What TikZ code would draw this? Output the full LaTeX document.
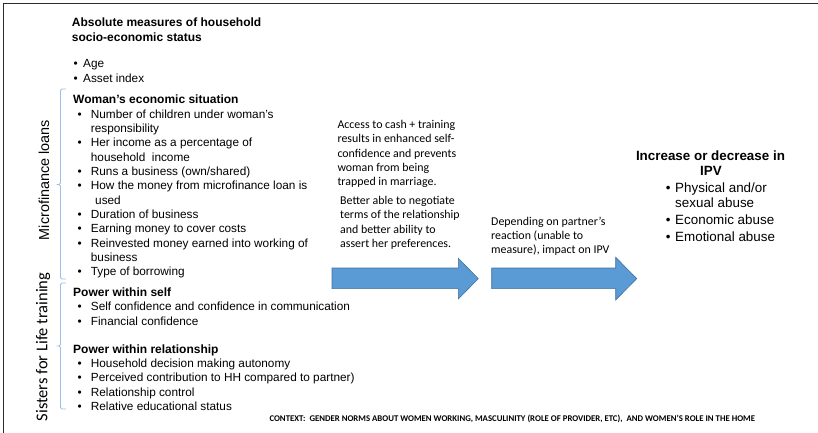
\documentclass[tikz,border=0pt]{standalone}
\usepackage{fontspec}
\setmainfont{Liberation Sans}
\newfontfamily\calib{Carlito}
\definecolor{framecol}{HTML}{2B2B2B}
\definecolor{bracketblue}{HTML}{9BBFE6}
\definecolor{arrowblue}{HTML}{5B9BD5}
\definecolor{arrowedge}{HTML}{41719C}
\begin{document}
\begin{tikzpicture}[x=1pt,y=-1pt,
  txt/.style={anchor=base west, inner sep=0pt, font=\fontsize{11.8}{14.3}\selectfont},
  hd/.style={anchor=base west, inner sep=0pt, font=\fontsize{12}{14.3}\selectfont\bfseries},
  bul/.style={anchor=base west, inner sep=0pt, font=\fontsize{11.8}{14.3}\selectfont},
  mid/.style={anchor=base west, inner sep=0pt, font=\calib\fontsize{11.9}{14.4}\selectfont},
  rtxt/.style={anchor=base west, inner sep=0pt, font=\fontsize{13.4}{16}\selectfont},
  rhd/.style={anchor=base, inner sep=0pt, font=\fontsize{13.4}{16}\selectfont\bfseries},
  brk/.style={draw=bracketblue, line width=0.9pt, rounded corners=1.5pt},
  bigarrow/.style={fill=arrowblue, draw=arrowedge, line width=0.6pt},
  ctx/.style={anchor=base west, inner sep=0pt, font=\calib\bfseries\fontsize{8.75}{10}\selectfont}
]
\useasboundingbox (0,0) rectangle (818,433);
\draw[framecol, line width=1.3pt] (3.5,433) -- (3.5,3.5) -- (818,3.5);

% header block
\node[hd] (t1) at (71.7,27) {Absolute measures of household};
\node[hd] (t2) at (71.7,42) {socio-economic status};
\node[bul] (b1) at (73.3,68) {•}; \node[txt] (a1) at (83,68) {Age};
\node[bul] (b2) at (73.3,83) {•}; \node[txt] (a2) at (83,83) {Asset index};

% woman's economic situation
\node[hd] (h1) at (73,103.3) {Woman’s economic situation};
\node[bul] (wb1) at (77.3,118.3) {•}; \node[txt] (w1) at (90.7,118.3) {Number of children under woman’s};
\node[txt] (w1b) at (90.7,132.6) {responsibility};
\node[bul] (wb2) at (77.3,146.9) {•}; \node[txt] (w2) at (90.7,146.9) {Her income as a percentage of};
\node[txt] (w2b) at (90.7,161.2) {household\ \ income};
\node[bul] (wb3) at (77.3,175.5) {•}; \node[txt] (w3) at (90.7,175.5) {Runs a business (own/shared)};
\node[bul] (wb4) at (77.3,189.8) {•}; \node[txt] (w4) at (90.7,189.8) {How the money from microfinance loan is};
\node[txt] (w4b) at (95,204.1) {used};
\node[bul] (wb5) at (77.3,218.4) {•}; \node[txt] (w5) at (90.7,218.4) {Duration of business};
\node[bul] (wb6) at (77.3,232.7) {•}; \node[txt] (w6) at (90.7,232.7) {Earning money to cover costs};
\node[bul] (wb7) at (77.3,247) {•}; \node[txt] (w7) at (90.7,247) {Reinvested money earned into working of};
\node[txt] (w7b) at (90.7,261.3) {business};
\node[bul] (wb8) at (77.3,275.6) {•}; \node[txt] (w8) at (90.7,275.6) {Type of borrowing};

% power within self
\node[hd] (h2) at (73,296.7) {Power within self};
\node[bul] (sb1) at (77.3,310.9) {•}; \node[txt] (s1) at (90.7,310.9) {Self confidence and confidence in communication};
\node[bul] (sb2) at (77.3,325.2) {•}; \node[txt] (s2) at (90.7,325.2) {Financial confidence};

% power within relationship
\node[hd] (h3) at (73,353.3) {Power within relationship};
\node[bul] (rb1) at (77.3,367.6) {•}; \node[txt] (r1) at (90.7,367.6) {Household decision making autonomy};
\node[bul] (rb2) at (77.3,381.9) {•}; \node[txt] (r2) at (90.7,381.9) {Perceived contribution to HH compared to partner)};
\node[bul] (rb3) at (77.3,396.2) {•}; \node[txt] (r3) at (90.7,396.2) {Relationship control};
\node[bul] (rb4) at (77.3,410.5) {•}; \node[txt] (r4) at (90.7,410.5) {Relative educational status};

% brackets
\draw[brk] (66,89) -- (60.5,89) -- (60.5,184.5) -- (55,184.5) -- (60.5,184.5) -- (60.5,279) -- (66,279);
\draw[brk] (66,283) -- (60.5,283) -- (60.5,346) -- (55,346) -- (60.5,346) -- (60.5,409) -- (66,409);

% rotated labels
\node[rotate=90, inner sep=0pt, font=\fontsize{14.4}{16}\selectfont] (ml) at (44,180) {Microfinance loans};
\node[rotate=90, inner sep=0pt, font=\calib\fontsize{16.5}{18}\selectfont] (sl) at (43,347) {Sisters for Life training};

% middle text
\node[mid] (m1) at (337.3,128.3) {Access to cash + training};
\node[mid] (m2) at (337.3,142.7) {results in enhanced self-};
\node[mid] (m3) at (337.3,157.1) {confidence and prevents};
\node[mid] (m4) at (337.3,171.5) {woman from being};
\node[mid] (m5) at (337.3,185.9) {trapped in marriage.};
\node[mid] (n1) at (340,204.3) {Better able to negotiate};
\node[mid] (n2) at (340,218.7) {terms of the relationship};
\node[mid] (n3) at (340,233.1) {and better ability to};
\node[mid] (n4) at (340,247.5) {assert her preferences.};
\node[mid] (d1) at (491,225) {Depending on partner’s};
\node[mid] (d2) at (491,239.3) {reaction (unable to};
\node[mid] (d3) at (491,253.6) {measure), impact on IPV};

% arrows
\draw[bigarrow] (332,268) -- (458.3,268) -- (458.3,258.3) -- (478.3,278.6) -- (458.3,299) -- (458.3,288.6) -- (332,288.6) -- cycle;
\draw[bigarrow] (491.7,268) -- (615.7,268) -- (615.7,257.3) -- (636.7,278.6) -- (615.7,300) -- (615.7,288.6) -- (491.7,288.6) -- cycle;

% right block
\node[rhd] (i1) at (710.5,160) {Increase or decrease in};
\node[rhd] (i2) at (711,175) {IPV};
\node[rtxt] (ib1) at (665.7,192.7) {•}; \node[rtxt] (i3) at (675,192.7) {Physical and/or};
\node[rtxt] (i3b) at (675,207.7) {sexual abuse};
\node[rtxt] (ib2) at (665.7,224.3) {•}; \node[rtxt] (i4) at (675,224.3) {Economic abuse};
\node[rtxt] (ib3) at (665.7,241) {•}; \node[rtxt] (i5) at (675,241) {Emotional abuse};

% context
\node[ctx] (c1) at (269.3,421.7) {CONTEXT:\ \ GENDER NORMS ABOUT WOMEN WORKING, MASCULINITY (ROLE OF PROVIDER, ETC),\ \ AND WOMEN’S ROLE IN THE HOME};
\end{tikzpicture}
\end{document}
